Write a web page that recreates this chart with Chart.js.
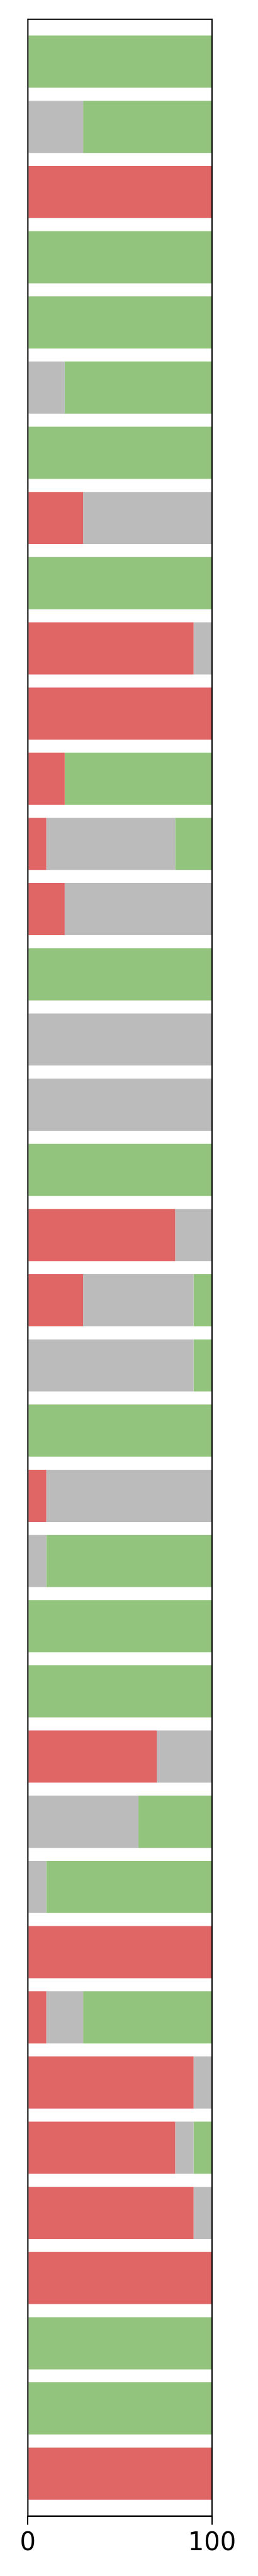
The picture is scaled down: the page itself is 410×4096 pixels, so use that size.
<!DOCTYPE html>
<html>
<head>
<meta charset="utf-8">
<script src="https://cdn.jsdelivr.net/npm/chart.js@4"></script>
<style>
  html, body { margin: 0; padding: 0; background: #fff; }
  canvas { display: block; }
</style>
</head>
<body>
<canvas id="stackChart" width="410" height="4096"></canvas>
<script>
// one row per bar, top to bottom (percent)
const rows = Array.from({ length: 38 }, (_, i) => i);
const redValues = [0, 0, 100, 0, 0, 0, 0, 30, 0, 90, 100, 20, 10, 20, 0, 0, 0, 0, 80, 30, 0, 0, 10, 0, 0, 0, 70, 0, 0, 100, 10, 90, 80, 90, 100, 0, 0, 100];
const greyValues = [0, 30, 0, 0, 0, 20, 0, 70, 0, 10, 0, 0, 70, 80, 0, 100, 100, 0, 20, 60, 90, 0, 90, 10, 0, 0, 30, 60, 10, 0, 20, 10, 10, 10, 0, 0, 0, 0];
const greenValues = [100, 70, 0, 100, 100, 80, 100, 0, 100, 0, 0, 80, 20, 0, 100, 0, 0, 100, 0, 10, 10, 100, 0, 90, 100, 100, 0, 40, 90, 0, 70, 0, 10, 0, 0, 100, 100, 0];
const xTicks = [0, 100];

const S = 0.682;

function points(values) {
  return values.map((v, i) => ({ x: v, y: rows[i] }));
}

// draws the closed axes box around the plot area
const frame = {
  id: 'frame',
  afterDatasetsDraw(chart) {
    const a = chart.chartArea;
    const ctx = chart.ctx;
    ctx.save();
    ctx.strokeStyle = '#000';
    ctx.lineWidth = 2;
    ctx.strokeRect(a.left, a.top, a.right - a.left, a.bottom - a.top);
    ctx.restore();
  }
};

const el = document.getElementById('stackChart');
new Chart(el, {
  type: 'bar',
  data: {
    datasets: [
      { data: points(redValues), backgroundColor: '#e06666' },
      { data: points(greyValues), backgroundColor: '#bbbbbb' },
      { data: points(greenValues), backgroundColor: '#93c47d' }
    ]
  },
  options: {
    indexAxis: 'y',
    responsive: false,
    animation: false,
    devicePixelRatio: 1,
    layout: { padding: { left: 65 * S, right: 410 - 494 * S, top: 45 * S, bottom: 0 } },
    datasets: { bar: { categoryPercentage: 1, barPercentage: 0.8, borderWidth: 0 } },
    plugins: { legend: { display: false }, tooltip: { enabled: false } },
    scales: {
      y: {
        type: 'linear',
        display: false,
        stacked: true,
        reverse: true,
        offset: false,
        min: -0.65,
        max: rows.length - 1 + 0.65,
        afterBuildTicks(scale) { scale.ticks = rows.map(v => ({ value: v })); }
      },
      x: {
        type: 'linear',
        stacked: true,
        offset: false,
        min: xTicks[0],
        max: xTicks[1],
        afterBuildTicks(scale) { scale.ticks = xTicks.map(v => ({ value: v })); },
        afterFit(scale) { scale.height = 4096 - 5866 * S; },
        border: { display: true, color: '#000', width: 2 },
        grid: { drawOnChartArea: false, color: '#000', lineWidth: 2, tickLength: 14, tickWidth: 2 },
        ticks: { color: '#000', padding: 6, maxRotation: 0, font: { family: 'DejaVu Sans', size: 40 } }
      }
    }
  },
  plugins: [frame]
});
</script>
</body>
</html>
